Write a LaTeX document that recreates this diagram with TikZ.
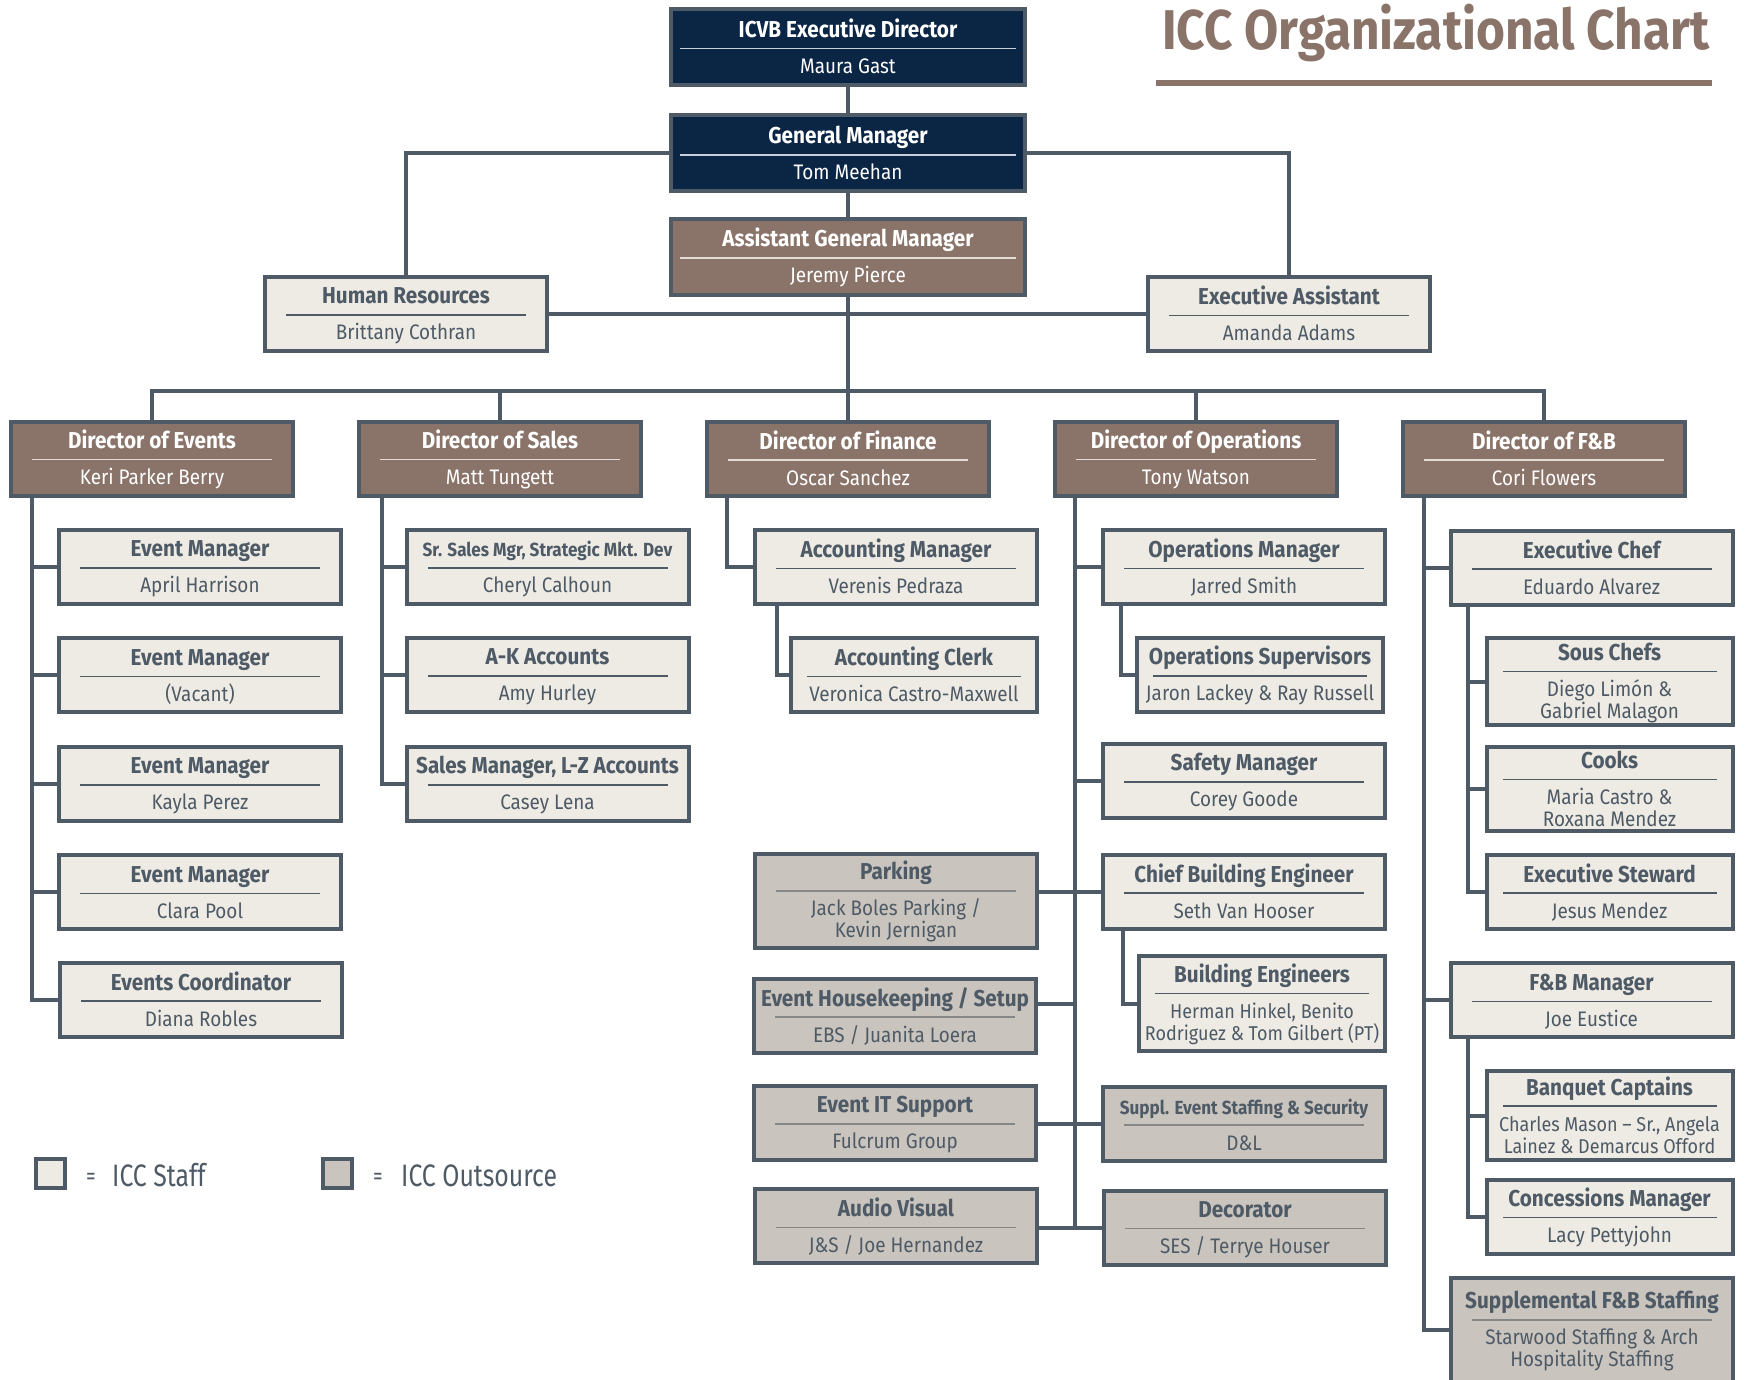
\documentclass[tikz,border=0pt]{standalone}
\usepackage{fontspec}
\setmainfont[FakeStretch=0.9]{Fira Sans}
\newfontfamily\headfont[FakeStretch=0.885]{Fira Sans}
\newfontfamily\keyfont[FakeStretch=0.8]{Fira Sans}
\usepackage{tikz}

\definecolor{icvbblue}{HTML}{0B2545}
\definecolor{taupe}{HTML}{8A746A}
\definecolor{staffbg}{HTML}{EEEBE5}
\definecolor{outbg}{HTML}{C9C4BE}
\definecolor{edge}{HTML}{4E5A65}
\definecolor{navysep}{HTML}{C9CFD8}
\definecolor{brownsep}{HTML}{E3DBD5}
\definecolor{outsep}{HTML}{878787}

\tikzset{
  sepwidth/.initial=240pt,
  sepcolor/.initial=edge,
  orgbox/.style={draw=edge, line width=4pt, inner sep=0pt, align=center,
    minimum width=282pt, minimum height=74pt, font=\fontsize{21}{22}\selectfont},
  navybox/.style={orgbox, fill=icvbblue, text=white, sepcolor=navysep,
    minimum width=354pt, minimum height=76pt, sepwidth=336pt},
  brownbox/.style={orgbox, fill=taupe, text=white, sepcolor=brownsep},
  staffbox/.style={orgbox, fill=staffbg, text=edge},
  outbox/.style={orgbox, fill=outbg, text=edge, sepcolor=outsep},
  slim/.style={minimum width=246pt, sepwidth=214pt},
  link/.style={draw=edge, line width=4pt},
  keytext/.style={text=edge, inner sep=0pt, anchor=base west, font=\keyfont\fontsize{31}{31}\selectfont}
}

\newcommand{\sepline}{{\color{\pgfkeysvalueof{/tikz/sepcolor}}\rule[-0.75pt]{\pgfkeysvalueof{/tikz/sepwidth}}{1.5pt}}}
\newcommand{\post}[3][23]{{\bfseries\fontsize{#1}{22}\selectfont\rule{0pt}{20pt}#2}\\[-11pt]\sepline\\[3pt]#3\rule[-3pt]{0pt}{3pt}}

\begin{document}
\begin{tikzpicture}[x=1pt, y=-1pt]
  \useasboundingbox (0,0) rectangle (1745,1380);
  \clip (0,0) rectangle (1745,1380);

  % heading
  \node[anchor=base west, inner sep=0pt, text=taupe, font=\headfont\bfseries\fontsize{56}{60}\selectfont] (title) at (1162,50) {ICC Organizational Chart};
  \draw[taupe, line width=6pt] ([xshift=-6pt,yshift=-33pt]title.base west) -- ([xshift=2pt,yshift=-33pt]title.base east);

  % top of the tree
  \node[navybox] (exec) at (848,47) {\post{ICVB Executive Director}{Maura Gast}};
  \node[navybox] (gm) at (848,153.5) {\post{General Manager}{Tom Meehan}};
  \node[brownbox, minimum width=354pt, minimum height=76pt, sepwidth=336pt] (agm) at (848,257) {\post{Assistant General Manager}{Jeremy Pierce}};
  \node[staffbox] (hr) at (406,314) {\post{Human Resources}{Brittany Cothran}};
  \node[staffbox] (ea) at (1289,314) {\post{Executive Assistant}{Amanda Adams}};

  % directors
  \node[brownbox] (devt) at (152,458.5) {\post{Director of Events}{Keri Parker Berry}};
  \node[brownbox] (dsal) at (500,458.5) {\post{Director of Sales}{Matt Tungett}};
  \node[brownbox] (dfin) at (848,458.5) {\post{Director of Finance}{Oscar Sanchez}};
  \node[brownbox] (dops) at (1196,458.5) {\post{Director of Operations}{Tony Watson}};
  \node[brownbox] (dfb) at (1544,458.5) {\post{Director of F\&B}{Cori Flowers}};

  % events
  \node[staffbox] (em1) at (200,567) {\post{Event Manager}{April Harrison}};
  \node[staffbox] (em2) at (200,675) {\post{Event Manager}{(Vacant)}};
  \node[staffbox] (em3) at (200,784) {\post{Event Manager}{Kayla Perez}};
  \node[staffbox] (em4) at (200,892) {\post{Event Manager}{Clara Pool}};
  \node[staffbox] (ecoord) at (201,999.5) {\post{Events Coordinator}{Diana Robles}};

  % sales
  \node[staffbox] (ssm) at (547.5,567) {\post[19]{Sr. Sales Mgr, Strategic Mkt. Dev}{Cheryl Calhoun}};
  \node[staffbox] (ak) at (547.5,675) {\post{A-K Accounts}{Amy Hurley}};
  \node[staffbox] (lz) at (547.5,784) {\post{Sales Manager, L-Z Accounts}{Casey Lena}};

  % finance
  \node[staffbox] (acm) at (896,567) {\post{Accounting Manager}{Verenis Pedraza}};
  \node[staffbox, slim] (acc) at (914,675) {\post{Accounting Clerk}{Veronica Castro-Maxwell}};

  % operations
  \node[staffbox] (opm) at (1244,567) {\post{Operations Manager}{Jarred Smith}};
  \node[staffbox, slim] (osup) at (1260,675) {\post{Operations Supervisors}{Jaron Lackey \& Ray Russell}};
  \node[staffbox] (safe) at (1244,781) {\post{Safety Manager}{Corey Goode}};
  \node[staffbox] (cbe) at (1244,891.5) {\post{Chief Building Engineer}{Seth Van Hooser}};
  \node[staffbox, slim, minimum height=95pt, font=\fontsize{20}{22}\selectfont] (be) at (1262,1003.5) {\post{Building Engineers}{Herman Hinkel, Benito\\Rodriguez \& Tom Gilbert (PT)}};
  \node[outbox] (sup) at (1244,1123.5) {\post[19]{Suppl. Event Staffing \& Security}{D\&L}};
  \node[outbox] (deco) at (1245,1227.5) {\post{Decorator}{SES / Terrye Houser}};
  \node[outbox, minimum height=94pt] (park) at (896,901) {\post{Parking}{Jack Boles Parking /\\Kevin Jernigan}};
  \node[outbox] (hk) at (895,1015.5) {\post{Event Housekeeping / Setup}{EBS / Juanita Loera}};
  \node[outbox] (its) at (895,1123) {\post{Event IT Support}{Fulcrum Group}};
  \node[outbox] (av) at (896,1226) {\post{Audio Visual}{J\&S / Joe Hernandez}};

  % food and beverage
  \node[staffbox] (chef) at (1591.5,567.5) {\post{Executive Chef}{Eduardo Alvarez}};
  \node[staffbox, slim, minimum height=87pt] (sous) at (1609.5,681.5) {\post{Sous Chefs}{Diego Limón \&\\Gabriel Malagon}};
  \node[staffbox, slim, minimum height=84pt] (cooks) at (1609.5,789) {\post{Cooks}{Maria Castro \&\\Roxana Mendez}};
  \node[staffbox, slim] (stew) at (1609.5,891.5) {\post{Executive Steward}{Jesus Mendez}};
  \node[staffbox] (fbm) at (1591.5,1000) {\post{F\&B Manager}{Joe Eustice}};
  \node[staffbox, slim, minimum height=89pt, font=\fontsize{20}{22}\selectfont] (banq) at (1609.5,1115.5) {\post{Banquet Captains}{Charles Mason -- Sr., Angela\\Lainez \& Demarcus Offord}};
  \node[staffbox, slim] (conc) at (1609.5,1216.5) {\post{Concessions Manager}{Lacy Pettyjohn}};
  \node[outbox, minimum height=104pt] (supfb) at (1592,1330) {\post{Supplemental F\&B Staffing}{Starwood Staffing \& Arch\\Hospitality Staffing}};

  % connectors
  \coordinate (bus) at (848,391);
  \draw[link] (exec) -- (gm);
  \draw[link] (gm) -- (agm);
  \draw[link] (gm.west) -| (hr.north);
  \draw[link] (gm.east) -| (ea.north);
  \draw[link] (hr.east) -- (ea.west);
  \draw[link] (agm) -- (dfin);
  \draw[link] (devt.north) |- (bus) -| (dfb.north);
  \draw[link] (dsal.north) -- (dsal.north |- bus);
  \draw[link] (dops.north) -- (dops.north |- bus);

  \foreach \c in {em1,em2,em3,em4,ecoord}
    \draw[link] ([xshift=23pt]devt.south west) |- (\c.west);
  \foreach \c in {ssm,ak,lz}
    \draw[link] ([xshift=25pt]dsal.south west) |- (\c.west);
  \draw[link] ([xshift=22pt]dfin.south west) |- (acm.west);
  \draw[link] ([xshift=24pt]acm.south west) |- (acc.west);

  \coordinate (opsbus) at ([xshift=22pt]dops.south west);
  \foreach \c in {opm,safe,cbe,sup,deco}
    \draw[link] (opsbus) |- (\c.west);
  \draw[link] ([xshift=20pt]opm.south west) |- (osup.west);
  \draw[link] ([xshift=22pt]cbe.south west) |- (be.west);
  \draw[link] (opsbus |- cbe.west) -- (cbe.west -| park.east);
  \draw[link] (opsbus |- be.west) -- (be.west -| hk.east);
  \draw[link] (opsbus |- sup.west) -- (sup.west -| its.east);
  \draw[link] (opsbus |- deco.west) -- (deco.west -| av.east);

  \foreach \c in {chef,fbm,supfb}
    \draw[link] ([xshift=23pt]dfb.south west) |- (\c.west);
  \foreach \c in {sous,cooks,stew}
    \draw[link] ([xshift=19pt]chef.south west) |- (\c.west);
  \foreach \c in {banq,conc}
    \draw[link] ([xshift=19pt]fbm.south west) |- (\c.west);

  % legend
  \node[staffbox, minimum width=29pt, minimum height=29pt] (keystaff) at (50,1173) {};
  \node[keytext, font=\keyfont\fontsize{24}{24}\selectfont] (keyeqa) at (86,1184) {=};
  \node[keytext] (keystafftext) at (112,1186) {ICC Staff};
  \node[outbox, minimum width=29pt, minimum height=29pt] (keyout) at (337,1173) {};
  \node[keytext, font=\keyfont\fontsize{24}{24}\selectfont] (keyeqb) at (373,1184) {=};
  \node[keytext] (keyouttext) at (401,1186) {ICC Outsource};
\end{tikzpicture}
\end{document}
